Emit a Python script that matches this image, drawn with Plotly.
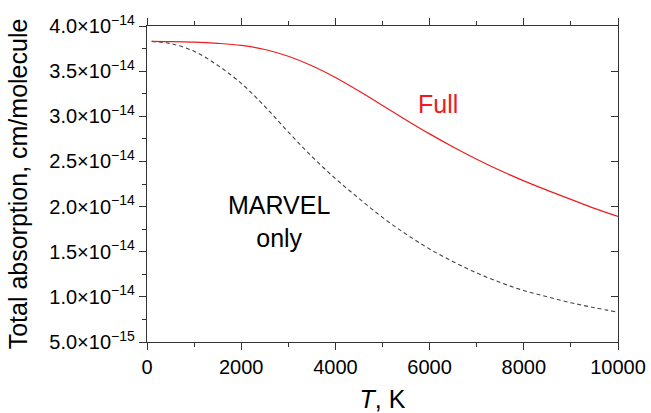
import numpy as np
import plotly.graph_objects as go

# Temperature grid, K
T = [100, 500, 1000, 1500, 2000, 2500, 3000, 3500, 4000, 4500, 5000,
     5500, 6000, 6500, 7000, 7500, 8000, 8500, 9000, 9500, 10000]

# Total absorption in units of 1e-15 cm/molecule
full = [38.3, 38.28, 38.22, 38.08, 37.85, 37.4, 36.65, 35.6, 34.3, 32.8, 31.2,
        29.6, 28.05, 26.6, 25.25, 24.0, 22.85, 21.8, 20.8, 19.8, 18.9]
marvel = [38.3, 38.05, 37.2, 35.65, 33.65, 31.1, 28.25, 25.55, 23.1, 20.9, 18.8,
          16.95, 15.3, 13.9, 12.65, 11.6, 10.7, 10.0, 9.35, 8.8, 8.3]

SCALE = 1e-15

y_tickvals = [5e-15, 1.0e-14, 1.5e-14, 2.0e-14, 2.5e-14, 3.0e-14, 3.5e-14, 4.0e-14]
y_ticktext = ["5.0×10<sup>−15</sup>", "1.0×10<sup>−14</sup>", "1.5×10<sup>−14</sup>",
              "2.0×10<sup>−14</sup>", "2.5×10<sup>−14</sup>", "3.0×10<sup>−14</sup>",
              "3.5×10<sup>−14</sup>", "4.0×10<sup>−14</sup>"]
x_tickvals = [0, 2000, 4000, 6000, 8000, 10000]
x_ticktext = ["0", "2000", "4000", "6000", "8000", "10000"]

FONT = "Liberation Sans, Arial, sans-serif"
AXIS_COLOR = "#333333"
xrange = [0, 10000]
yrange = [5e-15, 4e-14]

fig = go.Figure()
fig.add_trace(go.Scatter(
    x=T, y=np.array(marvel) * SCALE, mode="lines",
    line=dict(color="#444444", width=1.1, dash="4px,3px", shape="spline", smoothing=1.0),
    name="MARVEL only"))
# drawn on the mirrored top/right axes (identical ranges) so those axes render their ticks
fig.add_trace(go.Scatter(
    x=T, y=np.array(full) * SCALE, mode="lines", xaxis="x2", yaxis="y2",
    line=dict(color="#ee1c1c", width=1.2, shape="spline", smoothing=1.0),
    name="Full"))

tick_common = dict(tickwidth=1.3, tickcolor=AXIS_COLOR, showgrid=False, zeroline=False)
minor_x = dict(dtick=1000, tick0=0, ticks="outside", ticklen=4,
               tickwidth=1.3, tickcolor=AXIS_COLOR)

fig.update_layout(
    width=651, height=413,
    margin=dict(l=146.5, r=33, t=26, b=71),
    paper_bgcolor="white", plot_bgcolor="white",
    showlegend=False,
    font=dict(family=FONT, size=20, color="black"),
    xaxis=dict(
        range=xrange, tickvals=x_tickvals, ticktext=x_ticktext,
        ticks="outside", ticklen=7, minor=minor_x,
        showline=True, linecolor=AXIS_COLOR, linewidth=1.4, mirror=True,
        tickfont=dict(size=20), automargin=False,
        title=dict(text="<i>T</i>, K", font=dict(size=25), standoff=24),
        **tick_common,
    ),
    xaxis2=dict(
        overlaying="x", side="top", anchor="y", range=xrange, tickvals=x_tickvals,
        ticks="outside", ticklen=7, minor=minor_x,
        showticklabels=False, showline=False, automargin=False,
        **tick_common,
    ),
    yaxis=dict(
        range=yrange, tickvals=y_tickvals, ticktext=y_ticktext,
        ticks="outside", ticklen=7,
        minor=dict(dtick=2.5e-15, tick0=5e-15, ticks="outside", ticklen=4,
                   tickwidth=1.3, tickcolor=AXIS_COLOR),
        showline=True, linecolor=AXIS_COLOR, linewidth=1.4, mirror=True,
        tickfont=dict(size=20), automargin=False,
        title=dict(text="Total absorption, cm/molecule", font=dict(size=25), standoff=14),
        **tick_common,
    ),
    yaxis2=dict(
        overlaying="y", side="right", anchor="x", range=yrange, tickvals=y_tickvals,
        ticks="inside", ticklen=7,
        showticklabels=False, showline=False, automargin=False,
        **tick_common,
    ),
    annotations=[
        dict(x=6168, y=31.35 * SCALE, xref="x", yref="y", text="Full",
             showarrow=False, font=dict(size=25, color="#ee1c1c")),
        dict(x=2792, y=18.3 * SCALE, xref="x", yref="y", text="MARVEL<br>only",
             showarrow=False, font=dict(size=25, color="black")),
    ],
)

fig.write_html("out.html")
